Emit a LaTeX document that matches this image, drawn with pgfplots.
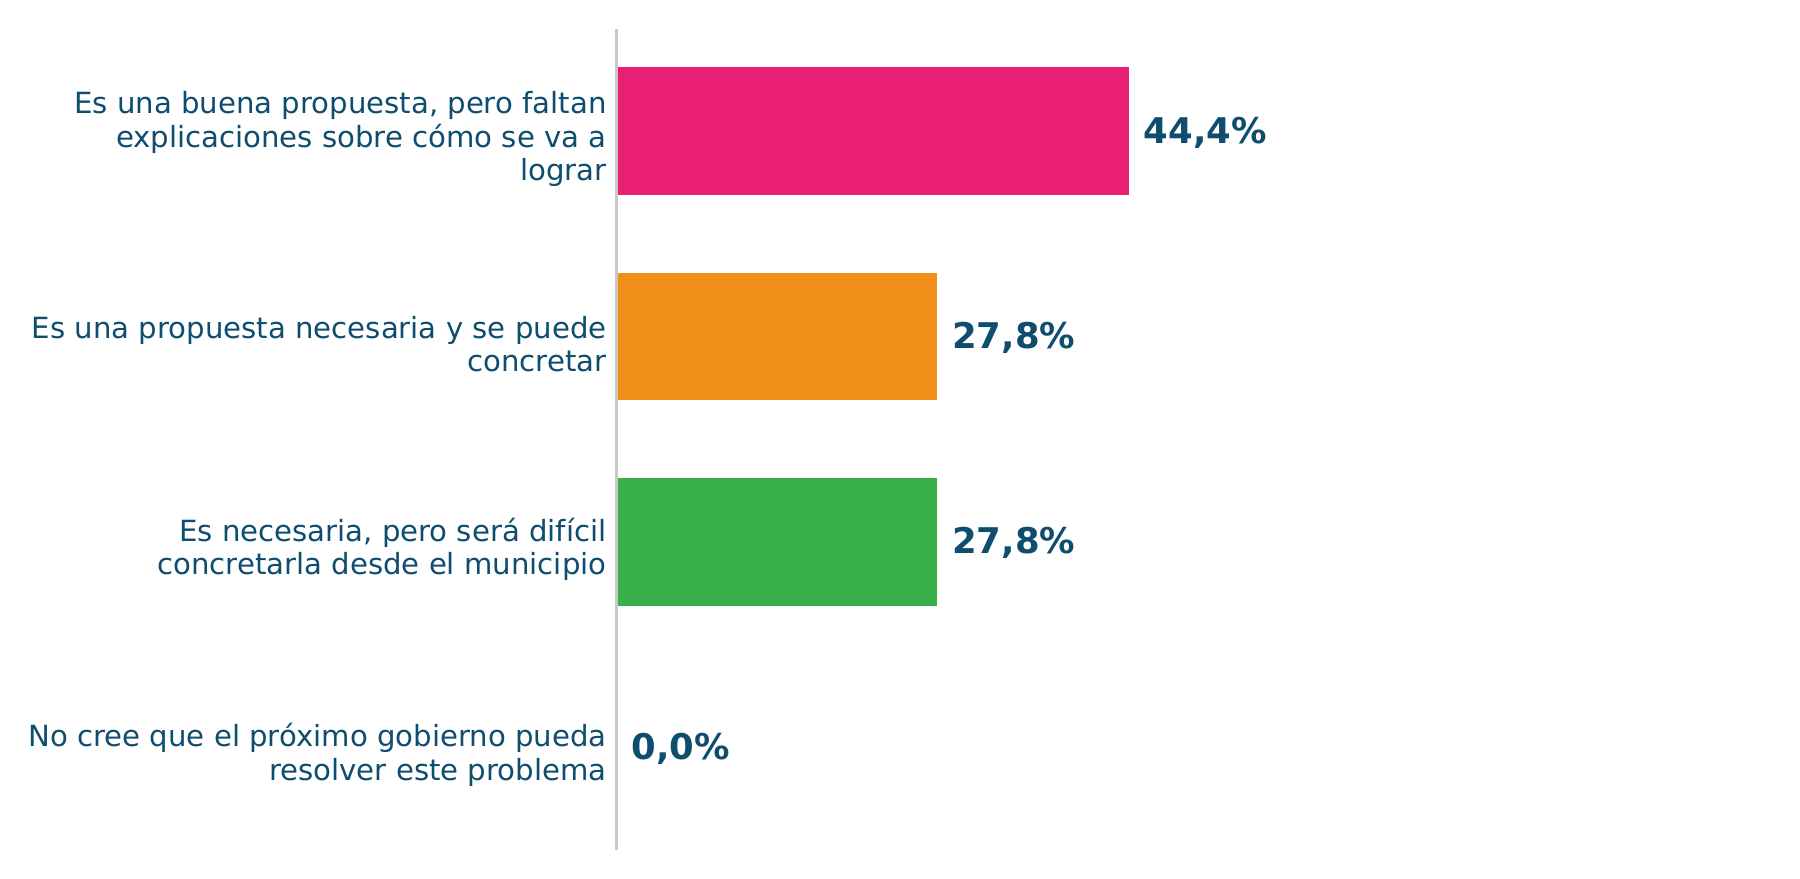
\documentclass[border=0pt]{standalone}
\usepackage{fontspec}
\setmainfont{DejaVu Sans}
\usepackage{pgfplots}
\pgfplotsset{compat=1.18}
\definecolor{cpink}{HTML}{E91E75}
\definecolor{corange}{HTML}{F28F1A}
\definecolor{cgreen}{HTML}{38B049}
\definecolor{ctext}{HTML}{0E4D6E}
\definecolor{caxis}{HTML}{C8C8C8}
\begin{document}
\begin{tikzpicture}
\path[use as bounding box] (0,0) rectangle (864bp,421.92bp);
\begin{axis}[
  at={(295.9bp,14.16bp)}, anchor=south west,
  scale only axis, width=554bp, height=394bp,
  xbar, bar width=61.4bp,
  xmin=0, xmax=100,
  ymin=-0.5, ymax=3.5, y dir=reverse,
  ytick={0,1,2,3},
  yticklabels={
    {Es una buena propuesta, pero faltan\\explicaciones sobre cómo se va a\\lograr},
    {Es una propuesta necesaria y se puede\\concretar},
    {Es necesaria, pero será difícil\\concretarla desde el municipio},
    {No cree que el próximo gobierno pueda\\resolver este problema}},
  yticklabel style={align=right, anchor=east, inner sep=0pt, xshift=-4.6bp, yshift=-3.8bp,
    font=\fontsize{14bp}{16bp}\selectfont, text=ctext},
  major tick length=0pt,
  axis x line=none,
  axis y line*=left,
  y axis line style={draw=caxis, line width=1.1bp, -},
  axis on top=true,
  nodes near coords={\pgfmathprintnumber[assume math mode=true,use comma,fixed,fixed zerofill,precision=1]{\pgfplotspointmeta}\%},
  nodes near coords align={horizontal},
  every node near coord/.append style={anchor=west, inner sep=0pt, xshift=7bp, yshift=-0.8bp,
    font=\bfseries\fontsize{17bp}{20bp}\selectfont, text=ctext},
  clip=false,
]
\addplot[fill=cpink, draw=none, bar shift=0pt] coordinates {(44.4,0)};
\addplot[fill=corange, draw=none, bar shift=0pt] coordinates {(27.8,1)};
\addplot[fill=cgreen, draw=none, bar shift=0pt] coordinates {(27.8,2)};
\addplot[fill=cgreen, draw=none, bar shift=0pt] coordinates {(0.0,3)};
\end{axis}
\end{tikzpicture}
\end{document}
